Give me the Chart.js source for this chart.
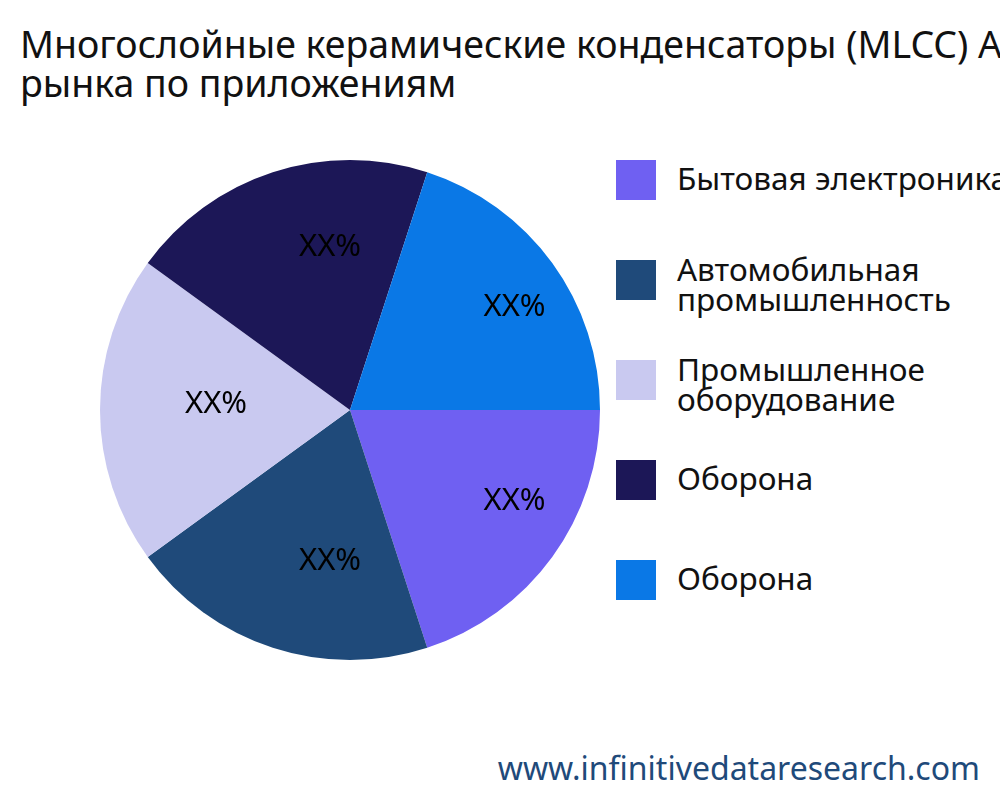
<!DOCTYPE html>
<html>
<head>
<meta charset="utf-8">
<script src="https://cdn.jsdelivr.net/npm/chart.js@4"></script>
<style>
  body { margin: 0; width: 1000px; height: 800px; overflow: hidden; background: #fff; font-family: "Noto Sans", "Open Sans", sans-serif; position: relative; }
  #title { position: absolute; left: 20px; top: 24px; font-size: 37.5px; line-height: 39px; color: #111; white-space: nowrap; }
  #chartBox { position: absolute; left: 95px; top: 155px; width: 510px; height: 510px; }
  #legend { position: absolute; left: 616px; top: 160px; }
  .item { position: absolute; left: 0; white-space: nowrap; }
  .box { position: absolute; left: 0; width: 40px; height: 40px; }
  .txt { position: absolute; left: 61px; font-size: 31.5px; line-height: 30px; color: #111; }
  #site { position: absolute; right: 20px; top: 746px; font-size: 32px; color: #1F4A7A; }
</style>
</head>
<body>
<div id="title">Многослойные керамические конденсаторы (MLCC) Анализ<br>рынка по приложениям</div>
<div id="chartBox"><canvas id="pie" width="510" height="510"></canvas></div>
<div id="legend"></div>
<div id="site">www.infinitivedataresearch.com</div>
<script>
// Данные
const categories = ['Бытовая электроника', 'Автомобильная промышленность', 'Промышленное оборудование', 'Оборона', 'Оборона'];
const legendLines = [['Бытовая электроника'], ['Автомобильная', 'промышленность'], ['Промышленное', 'оборудование'], ['Оборона'], ['Оборона']];
const shares = [20, 20, 20, 20, 20];
const sliceLabels = ['XX%', 'XX%', 'XX%', 'XX%', 'XX%'];
const colors = ['#6F60F2', '#1F4A7A', '#C9C9F0', '#1C1757', '#0A78E6'];

// Легенда
const legend = document.getElementById('legend');
categories.forEach((c, i) => {
    const item = document.createElement('div');
    item.className = 'item';
    item.style.top = (i * 100) + 'px';
    const box = document.createElement('div');
    box.className = 'box';
    box.style.background = colors[i];
    const txt = document.createElement('div');
    txt.className = 'txt';
    const lines = legendLines[i];
    txt.style.top = (lines.length === 1 ? 3 : -6) + 'px';
    txt.innerHTML = lines.join('<br>');
    item.appendChild(box);
    item.appendChild(txt);
    legend.appendChild(item);
});

// Подписи внутри секторов
const labelPlugin = {
    id: 'sliceLabels',
    afterDatasetsDraw(chart) {
        const ctx = chart.ctx;
        chart.getDatasetMeta(0).data.forEach((arc, i) => {
            const p = arc.getProps(['x', 'y', 'startAngle', 'endAngle', 'outerRadius']);
            const mid = (p.startAngle + p.endAngle) / 2;
            const r = p.outerRadius * 0.66;
            ctx.save();
            ctx.fillStyle = '#000';
            ctx.font = '31px "Noto Sans"';
            ctx.textAlign = 'left';
            ctx.textBaseline = 'middle';
            ctx.fillText(sliceLabels[i], p.x + Math.cos(mid) * r, p.y + Math.sin(mid) * r - 6);
            ctx.restore();
        });
    }
};

new Chart(document.getElementById('pie'), {
    type: 'pie',
    data: {
        labels: categories,
        datasets: [{ data: shares, backgroundColor: colors, borderWidth: 0 }]
    },
    options: {
        responsive: false,
        animation: false,
        rotation: 90,
        layout: { padding: 5 },
        plugins: { legend: { display: false }, tooltip: { enabled: false } }
    },
    plugins: [labelPlugin]
});
</script>
</body>
</html>
